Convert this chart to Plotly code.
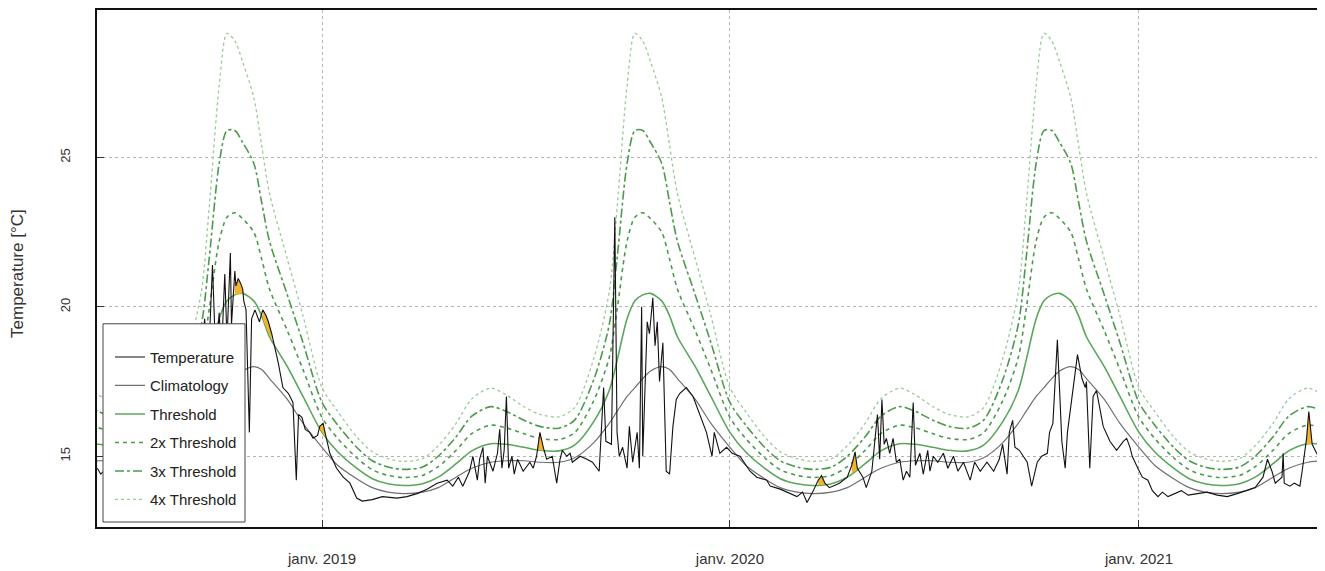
import numpy as np
import pandas as pd
import plotly.graph_objects as go

# ---------------- data ----------------
curve_dates = [
    "2018-06-01", "2018-06-15", "2018-07-01", "2018-07-15", "2018-08-01", "2018-08-15",
    "2018-09-01", "2018-09-15", "2018-09-22", "2018-10-01", "2018-10-08", "2018-10-15",
    "2018-10-22", "2018-11-01", "2018-11-08", "2018-11-15", "2018-12-01", "2018-12-15",
    "2019-01-01", "2019-01-15", "2019-02-01", "2019-02-15", "2019-03-01", "2019-03-15",
    "2019-04-01", "2019-04-15", "2019-05-01", "2019-05-15", "2019-06-01", "2019-06-15",
    "2019-07-01", "2019-07-15", "2019-08-01", "2019-08-15", "2019-09-01", "2019-09-15",
    "2019-09-22", "2019-10-01", "2019-10-08", "2019-10-15", "2019-10-22", "2019-11-01",
    "2019-11-08", "2019-11-15", "2019-12-01", "2019-12-15",
    "2020-01-01", "2020-01-15", "2020-02-01", "2020-02-15", "2020-03-01", "2020-03-15",
    "2020-04-01", "2020-04-15", "2020-05-01", "2020-05-15", "2020-06-01", "2020-06-15",
    "2020-07-01", "2020-07-15", "2020-08-01", "2020-08-15", "2020-09-01", "2020-09-15",
    "2020-09-22", "2020-10-01", "2020-10-08", "2020-10-15", "2020-10-22", "2020-11-01",
    "2020-11-08", "2020-11-15", "2020-12-01", "2020-12-15",
    "2021-01-01", "2021-01-15", "2021-02-01", "2021-02-15", "2021-03-01", "2021-03-15",
    "2021-04-01", "2021-04-15", "2021-05-01", "2021-05-15", "2021-06-01", "2021-06-15",
]

climatology = [
    14.8, 14.85, 14.85, 14.8, 14.8, 14.95, 15.45, 16.1, 16.5, 17.0, 17.3, 17.6,
    17.85, 18.0, 17.9, 17.6, 16.9, 16.1,
    15.3, 14.7, 14.25, 13.95, 13.8, 13.75, 13.8, 13.95, 14.3, 14.6, 14.8, 14.85,
    14.85, 14.8, 14.8, 14.95, 15.45, 16.1, 16.5, 17.0, 17.3, 17.6, 17.85, 18.0,
    17.9, 17.6, 16.9, 16.1,
    15.3, 14.7, 14.25, 13.95, 13.8, 13.75, 13.8, 13.95, 14.3, 14.6, 14.8, 14.85,
    14.85, 14.8, 14.8, 14.95, 15.45, 16.1, 16.5, 17.0, 17.3, 17.6, 17.85, 18.0,
    17.9, 17.6, 16.9, 16.1,
    15.3, 14.7, 14.25, 13.95, 13.8, 13.75, 13.8, 13.95, 14.3, 14.6, 14.8, 14.85,
]

threshold = [
    15.42, 15.4, 15.3, 15.2, 15.18, 15.37, 16.15, 17.2, 18.2, 19.6, 20.2, 20.4,
    20.45, 20.2, 19.7, 19.0, 18.0, 17.0,
    15.8, 15.15, 14.6, 14.25, 14.08, 14.02, 14.08, 14.3, 14.75, 15.18, 15.42, 15.4,
    15.3, 15.2, 15.18, 15.37, 16.15, 17.2, 18.2, 19.6, 20.2, 20.4, 20.45, 20.2,
    19.7, 19.0, 18.0, 17.0,
    15.8, 15.15, 14.6, 14.25, 14.08, 14.02, 14.08, 14.3, 14.75, 15.18, 15.42, 15.4,
    15.3, 15.2, 15.18, 15.37, 16.15, 17.2, 18.2, 19.6, 20.2, 20.4, 20.45, 20.2,
    19.7, 19.0, 18.0, 17.0,
    15.8, 15.15, 14.6, 14.25, 14.08, 14.02, 14.08, 14.3, 14.75, 15.18, 15.42, 15.4,
]

threshold_2x = [
    16.04, 15.95, 15.75, 15.6, 15.56, 15.79, 16.85, 18.3, 19.9, 22.2, 23.0, 23.15,
    22.95, 22.5, 21.6, 20.6, 19.2, 17.9,
    16.3, 15.6, 14.95, 14.55, 14.36, 14.29, 14.36, 14.65, 15.2, 15.76, 16.04, 15.95,
    15.75, 15.6, 15.56, 15.79, 16.85, 18.3, 19.9, 22.2, 23.0, 23.15, 22.95, 22.5,
    21.6, 20.6, 19.2, 17.9,
    16.3, 15.6, 14.95, 14.55, 14.36, 14.29, 14.36, 14.65, 15.2, 15.76, 16.04, 15.95,
    15.75, 15.6, 15.56, 15.79, 16.85, 18.3, 19.9, 22.2, 23.0, 23.15, 22.95, 22.5,
    21.6, 20.6, 19.2, 17.9,
    16.3, 15.6, 14.95, 14.55, 14.36, 14.29, 14.36, 14.65, 15.2, 15.76, 16.04, 15.95,
]

threshold_3x = [
    16.66, 16.5, 16.2, 16.0, 15.94, 16.21, 17.55, 19.4, 21.6, 24.8, 25.9, 25.9,
    25.5, 24.8, 23.5, 22.2, 20.4, 18.8,
    16.8, 16.05, 15.3, 14.85, 14.64, 14.56, 14.64, 15.0, 15.65, 16.34, 16.66, 16.5,
    16.2, 16.0, 15.94, 16.21, 17.55, 19.4, 21.6, 24.8, 25.9, 25.9, 25.5, 24.8,
    23.5, 22.2, 20.4, 18.8,
    16.8, 16.05, 15.3, 14.85, 14.64, 14.56, 14.64, 15.0, 15.65, 16.34, 16.66, 16.5,
    16.2, 16.0, 15.94, 16.21, 17.55, 19.4, 21.6, 24.8, 25.9, 25.9, 25.5, 24.8,
    23.5, 22.2, 20.4, 18.8,
    16.8, 16.05, 15.3, 14.85, 14.64, 14.56, 14.64, 15.0, 15.65, 16.34, 16.66, 16.5,
]

threshold_4x = [
    17.28, 17.05, 16.65, 16.4, 16.32, 16.63, 18.25, 20.5, 23.3, 27.4, 29.15, 28.9,
    28.2, 27.0, 25.4, 23.8, 21.6, 19.7,
    17.3, 16.5, 15.65, 15.15, 14.92, 14.83, 14.92, 15.35, 16.1, 16.92, 17.28, 17.05,
    16.65, 16.4, 16.32, 16.63, 18.25, 20.5, 23.3, 27.4, 29.15, 28.9, 28.2, 27.0,
    25.4, 23.8, 21.6, 19.7,
    17.3, 16.5, 15.65, 15.15, 14.92, 14.83, 14.92, 15.35, 16.1, 16.92, 17.28, 17.05,
    16.65, 16.4, 16.32, 16.63, 18.25, 20.5, 23.3, 27.4, 29.15, 28.9, 28.2, 27.0,
    25.4, 23.8, 21.6, 19.7,
    17.3, 16.5, 15.65, 15.15, 14.92, 14.83, 14.92, 15.35, 16.1, 16.92, 17.28, 17.05,
]

temp_dates = [
    "2018-06-14", "2018-06-17", "2018-06-25", "2018-07-05", "2018-07-15", "2018-07-25",
    "2018-08-05", "2018-08-15", "2018-08-25", "2018-09-05", "2018-09-12", "2018-09-18",
    "2018-09-21", "2018-09-25", "2018-09-28", "2018-10-01", "2018-10-03", "2018-10-06",
    "2018-10-08", "2018-10-11", "2018-10-12", "2018-10-15", "2018-10-16", "2018-10-18",
    "2018-10-20", "2018-10-22", "2018-10-23", "2018-10-25", "2018-10-28", "2018-10-30",
    "2018-11-02", "2018-11-06", "2018-11-09", "2018-11-12", "2018-11-14", "2018-11-17",
    "2018-11-20", "2018-11-23", "2018-11-27", "2018-12-02", "2018-12-06", "2018-12-09",
    "2018-12-11", "2018-12-14", "2018-12-17", "2018-12-21", "2018-12-24", "2018-12-28",
    "2018-12-30", "2019-01-02", "2019-01-04", "2019-01-08", "2019-01-14", "2019-01-20",
    "2019-01-26", "2019-02-01", "2019-02-06", "2019-02-15", "2019-02-24", "2019-03-09",
    "2019-03-18", "2019-03-27", "2019-04-05", "2019-04-14", "2019-04-23", "2019-04-28",
    "2019-05-03", "2019-05-07", "2019-05-13", "2019-05-16", "2019-05-20", "2019-05-22",
    "2019-05-25", "2019-05-27", "2019-05-29", "2019-06-03", "2019-06-07", "2019-06-09",
    "2019-06-11", "2019-06-13", "2019-06-15", "2019-06-17", "2019-06-20", "2019-06-22",
    "2019-06-25", "2019-06-30", "2019-07-06", "2019-07-09", "2019-07-12", "2019-07-15",
    "2019-07-18", "2019-07-21", "2019-07-26", "2019-07-30", "2019-08-02", "2019-08-04",
    "2019-08-08", "2019-08-11", "2019-08-13", "2019-08-20", "2019-08-26", "2019-08-31",
    "2019-09-06", "2019-09-09", "2019-09-10", "2019-09-12", "2019-09-17", "2019-09-20",
    "2019-09-22", "2019-09-24", "2019-09-27", "2019-10-01", "2019-10-03", "2019-10-06",
    "2019-10-10", "2019-10-12", "2019-10-14", "2019-10-15", "2019-10-19", "2019-10-21",
    "2019-10-24", "2019-10-26", "2019-10-28", "2019-10-30", "2019-11-02", "2019-11-05",
    "2019-11-08", "2019-11-11", "2019-11-14", "2019-11-17", "2019-11-23", "2019-11-29",
    "2019-12-05", "2019-12-11", "2019-12-16", "2019-12-18", "2019-12-23", "2019-12-29",
    "2020-01-03", "2020-01-10", "2020-01-19", "2020-01-25", "2020-02-03", "2020-02-06",
    "2020-02-15", "2020-02-24", "2020-03-01", "2020-03-06", "2020-03-10", "2020-03-15",
    "2020-03-20", "2020-03-23", "2020-03-26", "2020-03-30", "2020-04-08", "2020-04-15",
    "2020-04-19", "2020-04-22", "2020-04-24", "2020-04-29", "2020-05-02", "2020-05-07",
    "2020-05-10", "2020-05-12", "2020-05-14", "2020-05-16", "2020-05-18", "2020-05-20",
    "2020-05-23", "2020-05-26", "2020-05-29", "2020-06-01", "2020-06-04", "2020-06-07",
    "2020-06-10", "2020-06-13", "2020-06-15", "2020-06-19", "2020-06-22", "2020-06-26",
    "2020-06-28", "2020-07-01", "2020-07-05", "2020-07-10", "2020-07-14", "2020-07-19",
    "2020-07-23", "2020-07-28", "2020-08-03", "2020-08-07", "2020-08-12", "2020-08-18",
    "2020-08-24", "2020-08-29", "2020-09-01", "2020-09-05", "2020-09-07", "2020-09-10",
    "2020-09-12", "2020-09-16", "2020-09-23", "2020-09-27", "2020-10-02", "2020-10-06",
    "2020-10-11", "2020-10-13", "2020-10-16", "2020-10-19", "2020-10-20", "2020-10-24",
    "2020-10-27", "2020-10-29", "2020-11-02", "2020-11-05", "2020-11-07", "2020-11-11",
    "2020-11-14", "2020-11-15", "2020-11-18", "2020-11-21", "2020-11-24", "2020-11-27",
    "2020-11-30", "2020-12-06", "2020-12-12", "2020-12-18", "2020-12-21", "2020-12-24",
    "2020-12-26", "2020-12-31", "2021-01-04", "2021-01-09", "2021-01-13", "2021-01-18",
    "2021-01-22", "2021-01-27", "2021-02-02", "2021-02-08", "2021-02-14", "2021-02-22",
    "2021-03-03", "2021-03-12", "2021-03-21", "2021-03-30", "2021-04-08", "2021-04-15",
    "2021-04-22", "2021-04-26", "2021-04-30", "2021-05-03", "2021-05-09", "2021-05-10",
    "2021-05-11", "2021-05-16", "2021-05-20", "2021-05-25", "2021-05-27", "2021-05-31",
    "2021-06-02", "2021-06-05", "2021-06-09", "2021-06-12",
]

temperature = [
    14.6, 14.4, 14.7, 14.9, 14.6, 15.0,
    15.2, 15.1, 15.6, 16.3, 17.2, 19.6,
    17.8, 21.4, 18.2, 19.8, 18.4, 21.1,
    18.9, 21.8, 19.4, 21.2, 20.7, 20.95,
    20.8, 20.6, 20.2, 19.9, 15.8, 19.6,
    19.9, 19.5, 19.9, 19.7, 19.5, 19.1,
    18.6, 18.1, 17.3, 17.1, 16.8, 14.2,
    16.4, 16.3, 15.9, 15.8, 15.6, 15.7,
    16.0, 16.1, 15.75, 15.1, 14.6, 14.3,
    14.1, 13.6, 13.5, 13.55, 13.65, 13.6,
    13.65, 13.75, 13.9, 14.1, 14.2, 14.0,
    14.3, 14.0, 14.5, 15.0, 14.2, 14.9,
    15.3, 14.1, 15.0, 14.5, 15.1, 15.9,
    14.6, 15.2, 17.0, 14.6, 15.0, 14.4,
    14.9, 14.5, 14.8, 14.6, 15.0, 15.8,
    15.3, 14.9, 15.0, 14.1, 14.9, 15.2,
    15.0, 15.1, 14.8, 15.0, 14.9, 14.8,
    14.5, 16.4, 17.3, 15.5, 15.4, 23.0,
    15.8, 15.0, 15.3, 14.6, 16.0, 14.8,
    15.8, 14.6, 20.0, 15.0, 19.5, 19.1,
    20.3, 18.7, 19.5, 17.5, 18.8, 14.5,
    14.4, 16.0, 16.9, 17.1, 17.3, 17.0,
    16.4, 15.8, 15.0, 15.8, 15.1, 15.3,
    15.1, 15.0, 14.5, 14.3, 14.2, 14.0,
    13.9, 13.75, 13.65, 13.8, 13.45, 13.8,
    14.2, 14.35, 14.1, 13.95, 14.1, 14.3,
    14.7, 15.15, 14.6, 14.3, 13.95, 14.5,
    15.6, 16.4, 14.9, 16.9, 15.4, 15.6,
    15.1, 15.6, 14.8, 14.9, 14.2, 14.5,
    14.3, 16.8, 14.7, 15.1, 14.4, 15.2,
    14.5, 15.0, 14.8, 15.1, 14.6, 15.0,
    14.5, 14.8, 14.2, 14.8, 14.5, 14.8,
    14.5, 14.9, 15.4, 14.4, 15.8, 16.2,
    15.3, 15.2, 14.8, 14.0, 14.8, 15.0,
    15.1, 15.8, 16.1, 18.0, 18.9, 15.5,
    14.6, 15.8, 17.0, 17.8, 18.4, 17.6,
    17.3, 17.5, 14.6, 17.0, 17.2, 16.6,
    16.0, 15.5, 15.2, 15.5, 15.6, 15.3,
    15.0, 14.6, 14.3, 14.2, 13.85, 13.65,
    13.8, 13.65, 13.75, 13.85, 13.7, 13.75,
    13.8, 13.7, 13.65, 13.75, 13.85, 13.95,
    14.3, 14.9, 14.5, 14.1, 14.3, 15.1,
    14.1, 14.0, 14.1, 14.0, 14.5, 15.6,
    16.5, 15.4, 15.1, 14.9,
]

# marine heatwave events (periods where temperature exceeds the threshold)
event_starts = ["2018-10-15", "2018-11-08", "2018-12-29", "2019-07-11", "2020-03-18", "2020-04-17", "2021-05-29"]
event_ends = ["2018-10-23", "2018-11-19", "2019-01-05", "2019-07-19", "2020-03-26", "2020-04-25", "2021-06-06"]

x_tick_dates = ["2019-01-01", "2020-01-01", "2021-01-01"]
x_tick_labels = ["janv. 2019", "janv. 2020", "janv. 2021"]
y_ticks = [15, 20, 25]

# ---------------- figure ----------------
# the page body adds an 8 px offset, so the figure is 8 px smaller
W, H = 1317, 563
ML, MR, MT, MB = 89, 5, 0, 44
PW, PH = W - ML - MR, H - MT - MB
OFF = 8


def px_x(p):  # page pixel -> paper x
    return (p - OFF - ML) / PW


def px_y(p):  # page pixel -> paper y
    return 1 - (p - OFF - MT) / PH


fig = go.Figure()

green = "#5BA65B"
green_dark = "#4C9A4C"
green_light = "#98CC98"

fig.add_trace(go.Scatter(x=curve_dates, y=threshold_4x, mode="lines", name="4x Threshold",
                         line=dict(color=green_light, width=1.3, dash="dot", shape="spline", smoothing=0.8),
                         legendgroup="g6", legendrank=6))
fig.add_trace(go.Scatter(x=curve_dates, y=threshold_3x, mode="lines", name="3x Threshold",
                         line=dict(color=green_dark, width=1.6, dash="dashdot", shape="spline", smoothing=0.8),
                         legendgroup="g5", legendrank=5))
fig.add_trace(go.Scatter(x=curve_dates, y=threshold_2x, mode="lines", name="2x Threshold",
                         line=dict(color=green_dark, width=1.6, dash="4px,4px", shape="spline", smoothing=0.8),
                         legendgroup="g4", legendrank=4))
fig.add_trace(go.Scatter(x=curve_dates, y=threshold, mode="lines", name="Threshold",
                         line=dict(color=green, width=1.6, shape="spline", smoothing=0.8),
                         legendgroup="g3", legendrank=3))
fig.add_trace(go.Scatter(x=curve_dates, y=climatology, mode="lines", name="Climatology",
                         line=dict(color="#707070", width=1.2, shape="spline", smoothing=0.8),
                         legendgroup="g2", legendrank=2))

# event fills between threshold and temperature
t_num = pd.to_datetime(temp_dates).astype("int64").to_numpy()
c_num = pd.to_datetime(curve_dates).astype("int64").to_numpy()
temp_arr = np.array(temperature)
thr_at_temp = np.interp(t_num, c_num, np.array(threshold))
for s, e in zip(event_starts, event_ends):
    s_n, e_n = pd.Timestamp(s).value, pd.Timestamp(e).value
    m = (t_num >= s_n) & (t_num <= e_n)
    if not m.any():
        continue
    d = pd.to_datetime(t_num[m])
    top = np.maximum(temp_arr[m], thr_at_temp[m])
    xs = list(d) + list(d[::-1])
    ys = list(top) + list(thr_at_temp[m][::-1])
    fig.add_trace(go.Scatter(x=xs, y=ys, mode="lines", fill="toself", fillcolor="#F2B428",
                             line=dict(width=0), hoverinfo="skip", showlegend=False))

fig.add_trace(go.Scatter(x=temp_dates, y=temperature, mode="lines", name="Temperature",
                         line=dict(color="#111111", width=1.1),
                         legendgroup="g1", legendrank=1))

# legend frame (white box) drawn over the data
fig.add_shape(type="rect", xref="paper", yref="paper",
              x0=px_x(103), x1=px_x(245), y0=px_y(522), y1=px_y(323),
              fillcolor="white", line=dict(color="#444444", width=1), layer="above")

fig.add_annotation(text="Temperature [°C]", xref="paper", yref="paper",
                   x=px_x(18), y=px_y(272), textangle=-90, showarrow=False,
                   font=dict(size=17, color="#333333"), xanchor="center", yanchor="middle")

fig.update_layout(
    width=W, height=H,
    margin=dict(l=ML, r=MR, t=MT, b=MB),
    paper_bgcolor="white", plot_bgcolor="white",
    font=dict(family="Liberation Sans, Arial, sans-serif", size=15, color="#333333"),
    showlegend=True,
    legend=dict(x=px_x(110), y=px_y(340), xanchor="left", yanchor="top",
                bgcolor="rgba(0,0,0,0)", borderwidth=0,
                font=dict(size=15, color="#222222"),
                tracegroupgap=6, traceorder="grouped"),
    xaxis=dict(type="date", range=["2018-06-13 16:00", "2021-06-12"],
               tickvals=x_tick_dates, ticktext=x_tick_labels,
               tickfont=dict(size=15),
               showgrid=True, gridcolor="#b5b5b5", griddash="dot", gridwidth=1,
               showline=True, linecolor="#111111", linewidth=1.5, mirror=True,
               ticks="inside", ticklen=7, tickcolor="#333333",
               ticklabelstandoff=17, zeroline=False),
    yaxis=dict(range=[12.633, 29.933], tickvals=y_ticks,
               tickfont=dict(size=13),
               showgrid=True, gridcolor="#b5b5b5", griddash="dot", gridwidth=1,
               showline=True, linecolor="#111111", linewidth=1.5, mirror=True,
               ticks="inside", ticklen=7, tickcolor="#333333",
               tickangle=-90, ticklabelstandoff=20, zeroline=False),
)

fig.write_html("out.html")
